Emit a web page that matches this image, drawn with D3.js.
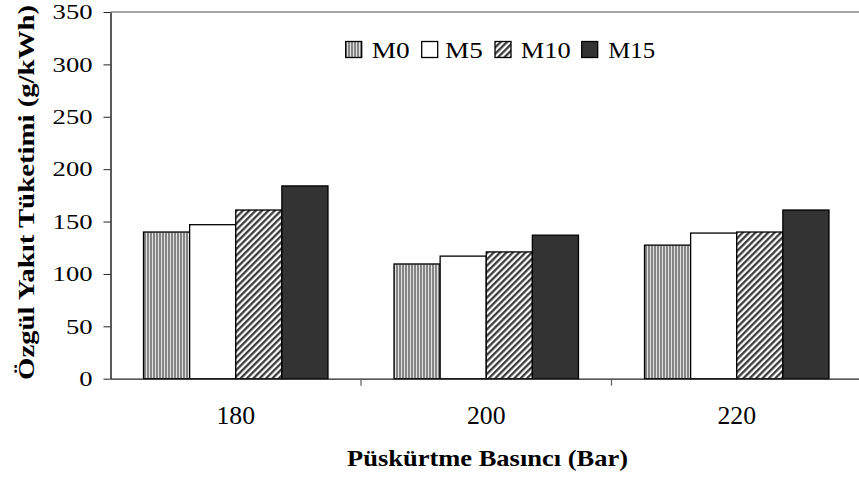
<!DOCTYPE html>
<html>
<head>
<meta charset="utf-8">
<script src="https://cdn.jsdelivr.net/npm/d3@7"></script>
<style>
  body { margin: 0; background: #fff; }
</style>
</head>
<body>
<div id="chart"></div>
<script>
'use strict';

const categories = ["180", "200", "220"];
const seriesNames = ["M0", "M5", "M10", "M15"];
const m0 = [140, 109.5, 127.5];
const m5 = [147, 117, 139];
const m10 = [161, 121, 140];
const m15 = [184, 137, 161];
const yTicks = [0, 50, 100, 150, 200, 250, 300, 350];

const FONT = '"Liberation Serif", "Times New Roman", serif';

const msm = {
  width: 859,
  height: 479,
  left: 110.5,
  right: 862,
  top: 12,
  bottom: 378.7
};

let svgContainer = d3.select('#chart')
  .append('svg')
  .attr('width', msm.width)
  .attr('height', msm.height)
  .style('font-family', FONT);

// patterns for the bar fills
let defs = svgContainer.append('defs');

let vert = defs.append('pattern')
  .attr('id', 'vstripe')
  .attr('patternUnits', 'userSpaceOnUse')
  .attr('width', 3)
  .attr('height', 3);
vert.append('rect').attr('width', 3).attr('height', 3).attr('fill', '#e0e0e0');
vert.append('line')
  .attr('x1', 1).attr('y1', 0).attr('x2', 1).attr('y2', 3)
  .attr('stroke', '#555').attr('stroke-width', 1.3);

let diag = defs.append('pattern')
  .attr('id', 'dstripe')
  .attr('patternUnits', 'userSpaceOnUse')
  .attr('width', 4.5)
  .attr('height', 4.5)
  .attr('patternTransform', 'rotate(-45)');
diag.append('rect').attr('width', 4.5).attr('height', 4.5).attr('fill', '#fff');
diag.append('line')
  .attr('x1', 0).attr('y1', 1.2).attr('x2', 4.5).attr('y2', 1.2)
  .attr('stroke', '#333').attr('stroke-width', 2.2);

const fills = {
  M0: 'url(#vstripe)',
  M5: '#ffffff',
  M10: 'url(#dstripe)',
  M15: '#333333'
};

let values = { M0: m0, M5: m5, M10: m10, M15: m15 };

let xScale = d3.scaleBand()
  .domain(categories)
  .range([msm.left, msm.right]);

let innerScale = d3.scaleBand()
  .domain(seriesNames)
  .range([0, xScale.bandwidth()])
  .paddingInner(0)
  .paddingOuter(0.716);

let yScale = d3.scaleLinear()
  .domain([0, 350])
  .range([msm.bottom, msm.top]);

// top border of the plot area
svgContainer.append('line')
  .attr('x1', msm.left).attr('x2', msm.width)
  .attr('y1', msm.top).attr('y2', msm.top)
  .attr('stroke', '#888')
  .attr('stroke-width', 1.5);

// bars
let rows = [];
seriesNames.forEach((s) => {
  categories.forEach((c, i) => rows.push({ series: s, cat: c, value: values[s][i] }));
});

svgContainer.selectAll('.bar')
  .data(rows)
  .enter()
  .append('rect')
    .attr('class', 'bar')
    .attr('x', (d) => xScale(d.cat) + innerScale(d.series))
    .attr('y', (d) => yScale(d.value))
    .attr('width', innerScale.bandwidth())
    .attr('height', (d) => msm.bottom - yScale(d.value))
    .attr('fill', (d) => fills[d.series])
    .attr('stroke', '#000')
    .attr('stroke-width', 1.3);

// y axis
let yAxis = d3.axisLeft(yScale).tickValues(yTicks).tickSize(7).tickSizeOuter(0);
let yG = svgContainer.append('g')
  .attr('transform', 'translate(' + msm.left + ', 0)')
  .call(yAxis);
yG.attr('font-family', FONT);
yG.select('.domain').attr('stroke', '#000').attr('stroke-width', 1.3);
yG.selectAll('.tick line').attr('stroke', '#222');
yG.selectAll('.tick text')
  .attr('x', -18)
  .attr('dy', '0.34em')
  .style('font-size', '20px')
  .attr('textLength', (d) => String(d).length * 13.3)
  .attr('lengthAdjust', 'spacingAndGlyphs')
  .attr('fill', '#000');

// x axis, ticks sit between the categories
let xAxis = d3.axisBottom(xScale).tickSize(0).tickSizeOuter(0);
let xG = svgContainer.append('g')
  .attr('transform', 'translate(0, ' + msm.bottom + ')')
  .call(xAxis);
xG.attr('font-family', FONT);
xG.select('.domain').attr('stroke', '#222').attr('stroke-width', 1.3);
xG.selectAll('.tick text')
  .attr('y', 45.3)
  .attr('dy', 0)
  .style('font-size', '25px')
  .attr('textLength', 38.6)
  .attr('lengthAdjust', 'spacingAndGlyphs')
  .attr('fill', '#000');

xG.selectAll('.sep')
  .data(categories.slice(1))
  .enter()
  .append('line')
    .attr('x1', (d) => xScale(d)).attr('x2', (d) => xScale(d))
    .attr('y1', 0).attr('y2', 7)
    .attr('stroke', '#666')
    .attr('stroke-width', 1.3);

// axis titles
svgContainer.append('text')
  .attr('x', 487.5)
  .attr('y', 466)
  .attr('text-anchor', 'middle')
  .attr('textLength', 281)
  .attr('lengthAdjust', 'spacingAndGlyphs')
  .style('font-size', '24px')
  .style('font-weight', 'bold')
  .text('Püskürtme Basıncı (Bar)');

svgContainer.append('text')
  .attr('transform', 'translate(34, 192.5) rotate(-90)')
  .attr('text-anchor', 'middle')
  .attr('textLength', 375)
  .attr('lengthAdjust', 'spacingAndGlyphs')
  .style('font-size', '24px')
  .style('font-weight', 'bold')
  .text('Özgül Yakıt Tüketimi (g/kWh)');

// legend
const legendBoxX = [345.7, 421.7, 495, 581.7];
const legendTextX = [371.7, 445, 520.7, 608.3];
const legendTextW = [38, 37.7, 50, 46.7];

svgContainer.selectAll('.legend-box')
  .data(seriesNames)
  .enter()
  .append('rect')
    .attr('class', 'legend-box')
    .attr('x', (d, i) => legendBoxX[i])
    .attr('y', 41.5)
    .attr('width', 16)
    .attr('height', 16)
    .attr('fill', (d) => fills[d])
    .attr('stroke', '#000')
    .attr('stroke-width', 1.3);

svgContainer.selectAll('.legend-text')
  .data(seriesNames)
  .enter()
  .append('text')
    .attr('class', 'legend-text')
    .attr('x', (d, i) => legendTextX[i])
    .attr('y', 58)
    .attr('textLength', (d, i) => legendTextW[i])
    .attr('lengthAdjust', 'spacingAndGlyphs')
    .style('font-size', '23px')
    .text((d) => d);
</script>
</body>
</html>
